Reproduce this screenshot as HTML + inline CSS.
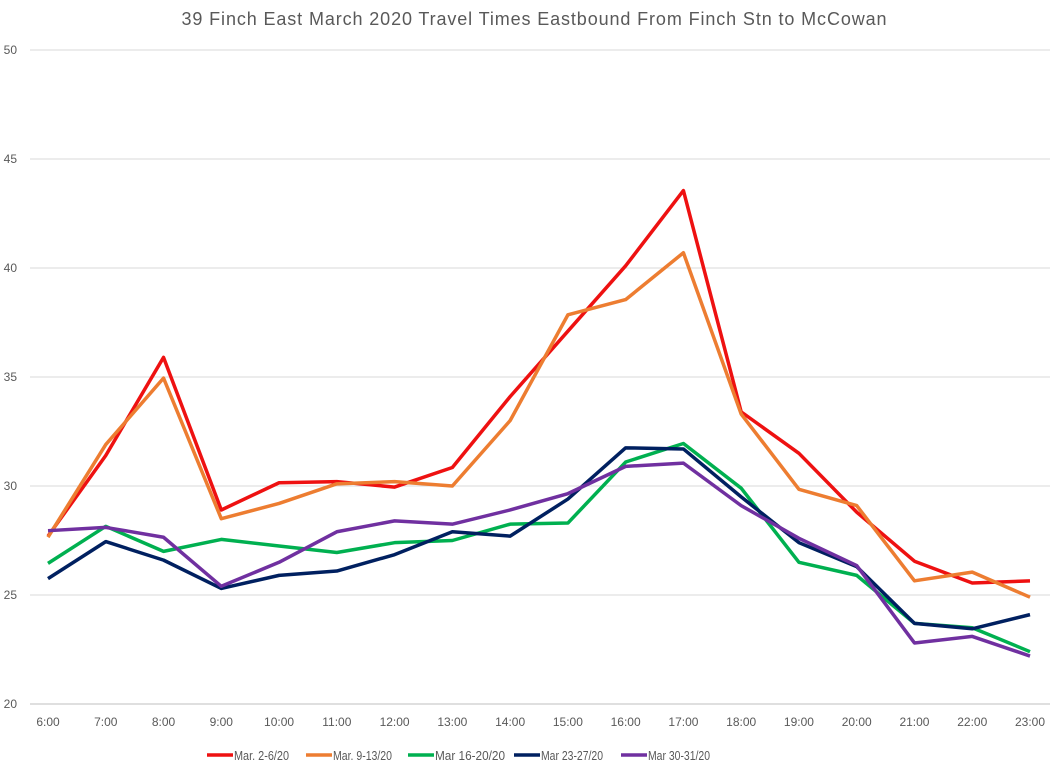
<!DOCTYPE html>
<html><head><meta charset="utf-8">
<style>
body{margin:0;background:#fff;font-family:"Liberation Sans",Arial,sans-serif;}
svg text{font-family:"Liberation Sans",Arial,sans-serif;fill:#595959;}
</style></head>
<body>
<svg id="chart" width="1052" height="775">
<text x="534" y="25" font-size="18" text-anchor="middle" textLength="705">39 Finch East March 2020 Travel Times Eastbound From Finch Stn to McCowan</text>
<g id="grid"></g><g id="series"></g><g id="legend"></g>
</svg>
<script>
const categories=["6:00","7:00","8:00","9:00","10:00","11:00","12:00","13:00","14:00","15:00","16:00","17:00","18:00","19:00","20:00","21:00","22:00","23:00"];
const yTicks=[20,25,30,35,40,45,50];
const seriesNames=["Mar. 2-6/20","Mar. 9-13/20","Mar 16-20/20","Mar 23-27/20","Mar 30-31/20"];
const seriesColors=["#ee1111","#ed7d31","#00b050","#002060","#7030a0"];
const s1=[27.7,31.4,35.9,28.9,30.15,30.2,29.95,30.85,34.1,37.1,40.1,43.55,33.4,31.5,28.8,26.55,25.55,25.65];
const s2=[27.65,31.9,34.95,28.5,29.2,30.1,30.2,30.0,33.0,37.85,38.55,40.7,33.3,29.85,29.1,25.65,26.05,24.9];
const s3=[26.45,28.15,27.0,27.55,27.25,26.95,27.4,27.5,28.25,28.3,31.1,31.95,29.9,26.5,25.9,23.7,23.5,22.4];
const s4=[25.75,27.45,26.6,25.3,25.9,26.1,26.85,27.9,27.7,29.4,31.75,31.7,29.5,27.4,26.3,23.7,23.45,24.1];
const s5=[27.95,28.1,27.65,25.4,26.5,27.9,28.4,28.25,28.9,29.65,30.9,31.05,29.1,27.6,26.35,22.8,23.1,22.2];
const allSeries=[s1,s2,s3,s4,s5];
const NS="http://www.w3.org/2000/svg";
const X0=48,X1=1030,Ytop=50,Ybot=704,ymin=20,ymax=50;
const xs=i=>X0+i*(X1-X0)/(categories.length-1);
const ys=v=>Ybot-(v-ymin)/(ymax-ymin)*(Ybot-Ytop);
function mk(t,a,p){const e=document.createElementNS(NS,t);for(const k in a)e.setAttribute(k,a[k]);p.appendChild(e);return e;}
const grid=document.getElementById('grid');
yTicks.forEach(v=>{
 const l=mk('line',{x1:30,x2:1050,y1:ys(v),y2:ys(v),stroke:v===20?'#bfbfbf':'#d9d9d9','stroke-width':1},grid);
 
 
 const t=mk('text',{x:17,y:ys(v)+4,'font-size':12,'text-anchor':'end'},grid);t.textContent=v;
 
 
});
categories.forEach((c,i)=>{
 const t=mk('text',{x:xs(i),y:726,'font-size':12,'text-anchor':'middle'},grid);t.textContent=c;
 
 
});
const sg=document.getElementById('series');
allSeries.forEach((d,k)=>{
 const p=mk('polyline',{points:d.map((v,i)=>xs(i)+','+ys(v)).join(' '),fill:'none',stroke:seriesColors[k],'stroke-width':3.5,'stroke-linejoin':'round'},sg);
 
 
});
const lg=document.getElementById('legend');
const lx=[207,306,408,514,621];
const lw=[55,59,70,62,62];
seriesNames.forEach((n,k)=>{
 const g=mk('g',{},lg);
 
 
 mk('line',{x1:lx[k],x2:lx[k]+26,y1:755,y2:755,stroke:seriesColors[k],'stroke-width':3.5},g);
 const t=mk('text',{x:lx[k]+27,y:760,'font-size':13,textLength:lw[k],lengthAdjust:'spacingAndGlyphs'},g);t.textContent=n;
});
</script>
</body></html>
